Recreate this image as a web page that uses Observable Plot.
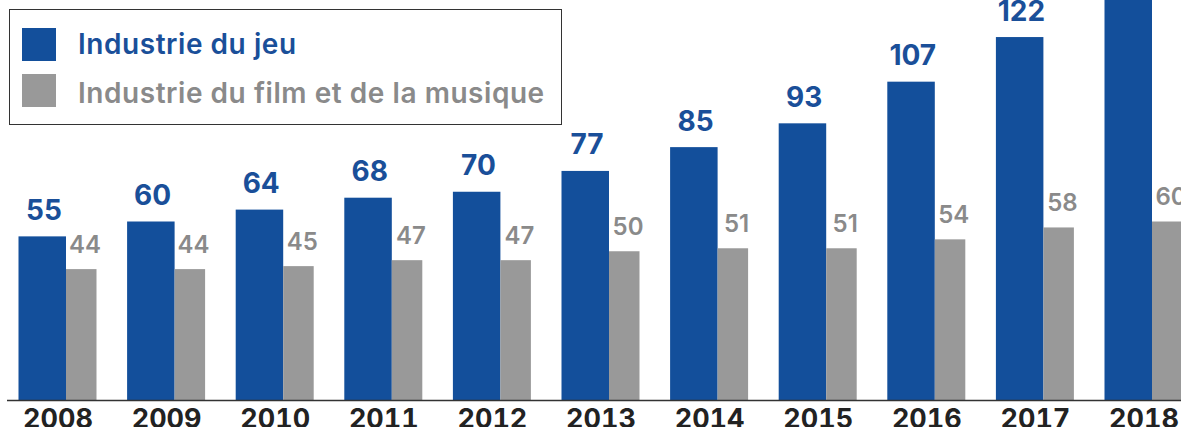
<!DOCTYPE html>
<html><head><meta charset="utf-8">
<script src="https://cdn.jsdelivr.net/npm/d3@7"></script>
<script src="https://cdn.jsdelivr.net/npm/@observablehq/plot@0.6"></script>
<style>
body{margin:0;background:#fff;font-family:Inter,sans-serif;}
#wrap{position:relative;width:1181px;height:427px;overflow:hidden;}
#legend{position:absolute;left:9px;top:9px;width:553px;height:116px;border:1.5px solid #333;background:#fff;box-sizing:border-box;}
.sw{position:absolute;left:11.5px;width:34px;height:33px;}
.lt{position:absolute;left:68px;font-family:Inter,sans-serif;font-size:28px;line-height:28px;font-weight:600;letter-spacing:0.55px;white-space:nowrap;}
</style>
</head><body>
<div id="wrap">
  <div id="chart"></div>
  <div id="legend"></div>
</div>
<script>
const years = [2008, 2009, 2010, 2011, 2012, 2013, 2014, 2015, 2016, 2017, 2018];
const gameValues = [55, 60, 64, 68, 70, 77, 85, 93, 107, 122, 138];
const filmValues = [44, 44, 45, 47, 47, 50, 51, 51, 54, 58, 60];
const seriesNames = ["Industrie du jeu", "Industrie du film et de la musique"];
const seriesColors = ["#134f9b", "#999999"];
const textColors = ["#1a4f99", "#8a8a8a"];

const W = 1181, H = 427;
const step = 108.6;             // pixels per year
const xDomain = [2008 - 66 / step, 2008 + (W - 66) / step];
const blueW = 47.5 / step, greyW = 30.5 / step;

const data = years.map((y, i) => ({year: y, game: gameValues[i], film: filmValues[i]}));

const chart = Plot.plot({
  width: W, height: H,
  marginTop: 0, marginBottom: 27, marginLeft: 0, marginRight: 0,
  style: {fontFamily: "Inter, sans-serif", overflow: "hidden", background: "#fff"},
  x: {type: "linear", domain: xDomain, axis: null},
  y: {domain: [0, 400 / 2.975], axis: null},
  marks: [
    Plot.rect(data, {x1: d => d.year - blueW, x2: "year", y1: 0, y2: "game", fill: seriesColors[0], clip: true}),
    Plot.rect(data, {x1: "year", x2: d => d.year + greyW, y1: 0, y2: "film", fill: seriesColors[1], clip: true}),
    Plot.ruleY([0], {stroke: "#333", strokeWidth: 1.5, insetLeft: 7}),
    Plot.text(data, {x: "year", y: "game", text: d => String(d.game), dx: -22.5, dy: -17, lineAnchor: "bottom",
      fill: textColors[0], fontSize: 28, fontWeight: 700, clip: true}),
    Plot.text(data, {x: "year", y: "film", text: d => String(d.film), dx: 18.5, dy: -17, lineAnchor: "bottom",
      fill: textColors[1], fontSize: 24, fontWeight: 600}),
    Plot.axisX({ticks: years, tickSize: 0, tickPadding: 8, tickFormat: d => String(d), dx: -8.5,
      fontSize: 27, fontWeight: 700, fill: "#222", label: null})
  ]
});
document.getElementById("chart").appendChild(chart);

const legend = document.getElementById("legend");
const swTops = [17.5, 63.5];
const txtTops = [19.6, 69.3];
seriesNames.forEach((name, i) => {
  const sw = document.createElement("div");
  sw.className = "sw";
  sw.style.top = swTops[i] + "px";
  sw.style.background = seriesColors[i];
  legend.appendChild(sw);
  const t = document.createElement("div");
  t.className = "lt";
  t.style.top = txtTops[i] + "px";
  t.style.color = textColors[i];
  t.textContent = name;
  legend.appendChild(t);
});
</script>
</body></html>
